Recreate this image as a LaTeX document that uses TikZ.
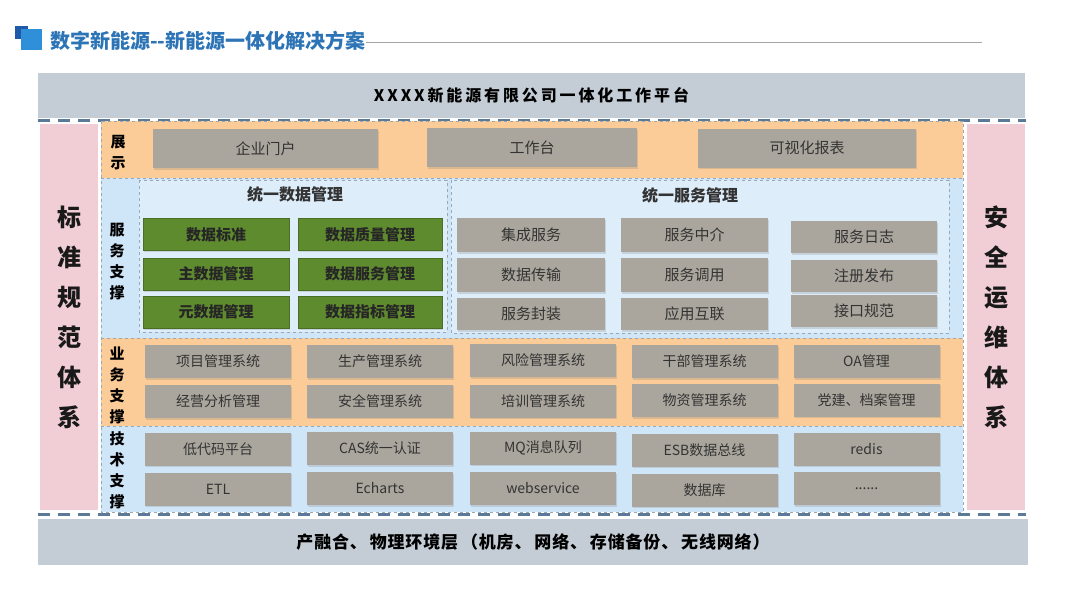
\documentclass[tikz,border=0pt]{standalone}
\usepackage{fontspec}
\setmainfont{Noto Sans CJK SC}
\usetikzlibrary{shadows}
\definecolor{titleblue}{HTML}{2C74B5}
\definecolor{iconblue}{HTML}{2F8FD8}
\definecolor{icondark}{HTML}{1E5AA8}
\definecolor{bargray}{HTML}{C4CDD5}
\definecolor{bandorange}{HTML}{FBCB98}
\definecolor{bandblue}{HTML}{CFE5F8}
\definecolor{pinkcol}{HTML}{F1CDD6}
\definecolor{boxgray}{HTML}{ABA69D}
\definecolor{boxgreen}{HTML}{5F8B2F}
\definecolor{greenedge}{HTML}{4A6E22}
\definecolor{dashblue}{HTML}{5A7A98}
\definecolor{thinedge}{HTML}{9AA7B5}
\definecolor{txtgray}{HTML}{333333}
\begin{document}
\begin{tikzpicture}[x=1pt,y=-1pt,
  gbox/.style={fill=boxgray, text=txtgray, inner sep=0pt, drop shadow={opacity=0.25, shadow xshift=1pt, shadow yshift=-1.5pt}},
  sbox/.style={gbox, font=\fontsize{15}{15}\selectfont},
  tbox/.style={gbox, font=\fontsize{14}{14}\selectfont, minimum width=146, minimum height=33},
  grbox/.style={fill=boxgreen, draw=greenedge, line width=0.8pt, text=black!85, inner sep=0pt, font=\bfseries\fontsize{15}{15}\selectfont, minimum height=32, drop shadow={opacity=0.25, shadow xshift=1pt, shadow yshift=-1.5pt}},
  vlabel/.style={align=center, inner sep=0pt, font=\bfseries\fontsize{15}{21}\selectfont, text=black},
  biglabel/.style={align=center, inner sep=0pt, font=\bfseries\fontsize{24}{40}\selectfont, text=black!90},
  bigdash/.style={draw=dashblue, line width=3pt, dash pattern=on 12pt off 8pt},
  band/.style={draw=thinedge, line width=0.5pt, dashed},
]
\useasboundingbox (0,0) rectangle (1080,608);
\fill[white] (0,0) rectangle (1080,608);

% title
\fill[icondark] (15,26) rectangle (28,39);
\fill[iconblue] (21,29) rectangle (42,50);
\node[anchor=west, inner sep=0pt, text=titleblue, font=\bfseries\fontsize{20}{20}\selectfont] (title) at (50,41) {数字新能源-{}-新能源一体化解决方案};
\coordinate (lineend) at (982,42);
\draw[gray!70, line width=1pt] (title.east |- lineend) -- (lineend);

% top bar
\node[fill=bargray, minimum width=987, minimum height=45, inner sep=0pt, font=\bfseries\fontsize{16}{16}\selectfont\addfontfeature{LetterSpace=18}] (top) at (531.5,95) {XXXX新能源有限公司一体化工作平台};
\coordinate (d1a) at (38,120);
\coordinate (d1b) at (1026,120);
\draw[bigdash] (d1a) -- (d1b);

% side columns
\node[fill=pinkcol, minimum width=58, minimum height=386, inner sep=0pt] (leftcol) at (69,317) {};
\node[biglabel] (lefttxt) at (leftcol.center) {标\\准\\规\\范\\体\\系};
\node[fill=pinkcol, minimum width=58, minimum height=386, inner sep=0pt] (rightcol) at (996,317) {};
\node[biglabel] (righttxt) at (rightcol.center) {安\\全\\运\\维\\体\\系};

% bands
\fill[bandorange] (101,121) rectangle (963,178);
\fill[bandblue] (101,178) rectangle (963,338);
\fill[bandorange] (101,338) rectangle (963,426);
\fill[bandblue] (101,426) rectangle (963,512);
\draw[band] (101,121) rectangle (963,512);
\draw[band] (101,178) -- (963,178);
\draw[band] (101,338) -- (963,338);
\draw[band] (101,426) -- (963,426);

% band labels
\node[vlabel] (l1) at (118,153) {展\\示};
\node[vlabel] (l2) at (117,262) {服\\务\\支\\撑};
\node[vlabel] (l3) at (117,385) {业\\务\\支\\撑};
\node[vlabel] (l4) at (117,470) {技\\术\\支\\撑};

% 展示 boxes
\node[sbox, minimum width=225, minimum height=39] (p1) at (265.5,148.5) {企业门户};
\node[sbox, minimum width=210, minimum height=39] (p2) at (532,147.5) {工作台};
\node[sbox, minimum width=218, minimum height=39] (p3) at (807,148) {可视化报表};

% data management
\draw[band, fill=bandblue!70!white] (139,180) rectangle (447,332);
\node[inner sep=0pt, font=\bfseries\fontsize{16}{16}\selectfont, text=txtgray] (dmt) at (295,194) {统一数据管理};
\node[grbox, minimum width=146] (g11) at (216,234.5) {数据标准};
\node[grbox, minimum width=144] (g12) at (370,234.5) {数据质量管理};
\node[grbox, minimum width=146] (g21) at (216,274) {主数据管理};
\node[grbox, minimum width=144] (g22) at (370,274) {数据服务管理};
\node[grbox, minimum width=146] (g31) at (216,312) {元数据管理};
\node[grbox, minimum width=144] (g32) at (370,312) {数据指标管理};

% service management
\draw[band, fill=bandblue!70!white] (451,180) rectangle (949,333);
\node[inner sep=0pt, font=\bfseries\fontsize{16}{16}\selectfont, text=txtgray] (smt) at (690,195) {统一服务管理};
\node[sbox, minimum width=148, minimum height=34] (s11) at (531,235) {集成服务};
\node[sbox, minimum width=147, minimum height=34] (s12) at (694.5,235) {服务中介};
\node[sbox, minimum width=146, minimum height=32] (s13) at (864,237) {服务日志};
\node[sbox, minimum width=148, minimum height=34] (s21) at (531,275) {数据传输};
\node[sbox, minimum width=147, minimum height=34] (s22) at (694.5,275) {服务调用};
\node[sbox, minimum width=146, minimum height=32] (s23) at (864,276) {注册发布};
\node[sbox, minimum width=148, minimum height=32] (s31) at (531,314) {服务封装};
\node[sbox, minimum width=147, minimum height=32] (s32) at (694.5,314) {应用互联};
\node[sbox, minimum width=146, minimum height=32] (s33) at (864,311) {接口规范};

% 业务支撑
\node[tbox] (b11) at (218,361.5) {项目管理系统};
\node[tbox] (b12) at (380,361.5) {生产管理系统};
\node[tbox] (b13) at (543,360.5) {风险管理系统};
\node[tbox] (b14) at (704.5,361.5) {干部管理系统};
\node[tbox] (b15) at (866.5,361.5) {OA管理};
\node[tbox] (b21) at (218,401.5) {经营分析管理};
\node[tbox] (b22) at (380,401) {安全管理系统};
\node[tbox] (b23) at (543,401) {培训管理系统};
\node[tbox] (b24) at (704.5,400.5) {物资管理系统};
\node[tbox] (b25) at (866.5,400) {党建、档案管理};

% 技术支撑
\node[tbox] (t11) at (218,449) {低代码平台};
\node[tbox] (t12) at (380,448.5) {CAS统一认证};
\node[tbox] (t13) at (543,448) {MQ消息队列};
\node[tbox] (t14) at (704.5,450) {ESB数据总线};
\node[tbox] (t15) at (866.5,449) {redis};
\node[tbox] (t21) at (218,489) {ETL};
\node[tbox] (t22) at (380,488.5) {Echarts};
\node[tbox] (t23) at (543,488.5) {webservice};
\node[tbox] (t24) at (704.5,490) {数据库};
\node[tbox] (t25) at (866.5,488.5) {......};

% bottom
\coordinate (d2a) at (38,514);
\coordinate (d2b) at (1026,514);
\draw[bigdash] (d2a) -- (d2b);
\node[fill=bargray, minimum width=990, minimum height=46, inner sep=0pt, font=\bfseries\fontsize{17}{17}\selectfont\addfontfeature{LetterSpace=5}] (bottom) at (533,542) {产融合、\,物理环境层\,（机房、\,网络、\,存储备份、\,无线网络）};
\end{tikzpicture}
\end{document}
